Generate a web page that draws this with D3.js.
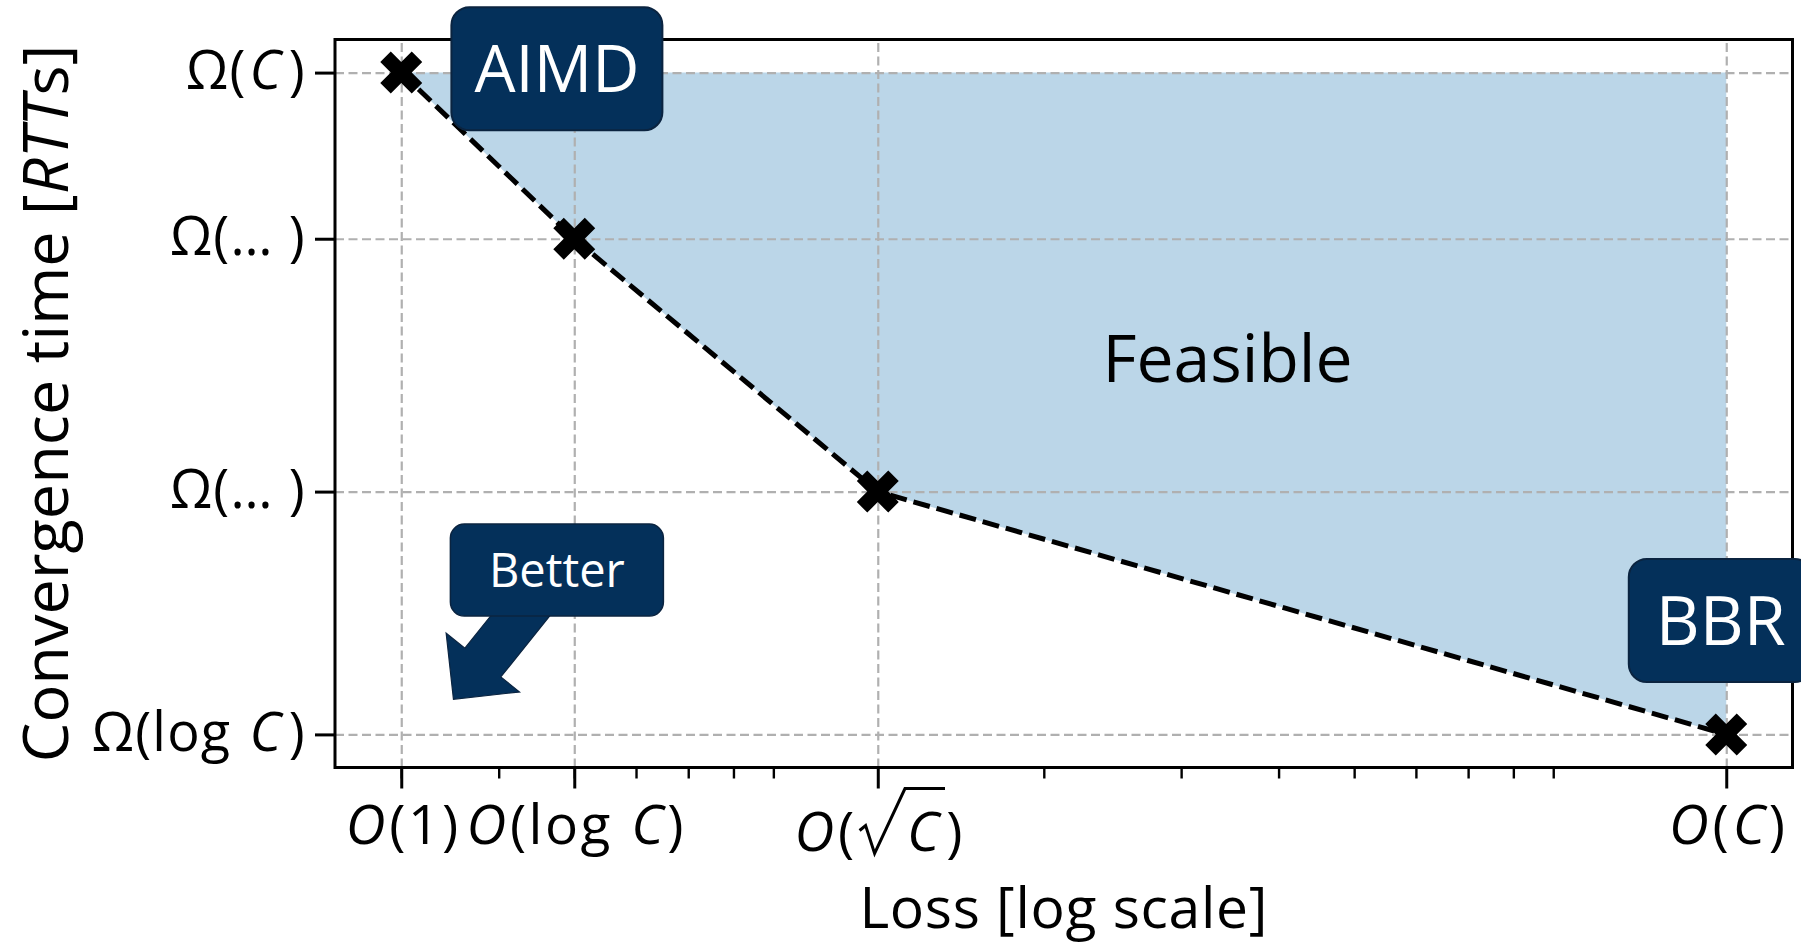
<!DOCTYPE html>
<html>
<head>
<meta charset="utf-8">
<script src="https://cdn.jsdelivr.net/npm/d3@7"></script>
<style>
  body { margin: 0; background: #fff; }
  text { font-family: "Open Sans", "Noto Sans", sans-serif; }
</style>
</head>
<body>
<div id="chart"></div>
<script>
const width = 1801;
const height = 945;
const plot = { left: 335, right: 1792.5, top: 39.5, bottom: 767.5 };

// frontier points (loss, convergence time)
const lossValues = [3, 5, 12.25, 150];
const timeValues = [150, 113.6, 58.2, 5];

// ticks: $..$ = italic, ^..^ = italic under a square root
const xTickValues = [3, 5, 12.25, 150];
const xTickLabels = ["$O$(1)", "$O$(log $C$)", "$O$(^C^)", "$O$($C$)"];
const yTickValues = [150, 113.6, 58.2, 5];
const yTickLabels = ["Ω($C$)", "Ω(… )", "Ω(… )", "Ω(log $C$)"];

// annotations, in data coordinates
const boxLabels = ["AIMD", "BBR"];
const boxLoss = [4.75, 147.6];
const boxTime = [150.85, 29.95];
const betterLabel = "Better";
const betterAt = [4.75, 41.0];
const betterTip = [3.5, 12.7];
const regionLabel = "Feasible";
const regionAt = [34.4, 82.2];

const navy = "#04305a";

const svg = d3.select("#chart")
  .append("svg")
  .attr("width", width)
  .attr("height", height)
  .style("background-color", "#fff");

// matplotlib style 5% margins
const lx = d3.extent(lossValues).map(Math.log10);
const padX = (lx[1] - lx[0]) * 0.05;
const x = d3.scaleLog()
  .domain([Math.pow(10, lx[0] - padX), Math.pow(10, lx[1] + padX)])
  .range([plot.left, plot.right]);

const ty = d3.extent(timeValues);
const padY = (ty[1] - ty[0]) * 0.05;
const y = d3.scaleLinear()
  .domain([ty[0] - padY, ty[1] + padY])
  .range([plot.bottom, plot.top]);

function richText(sel, str, spacing) {
  str.split(/(\$[^$]*\$|\^[^^]*\^)/).filter(s => s.length).forEach(part => {
    if (part[0] === "$") {
      const t = sel.append("tspan").attr("font-style", "italic").text(part.slice(1, -1));
      if (spacing) t.attr("dx", spacing).attr("letter-spacing", spacing * 2.5);
    } else if (part[0] === "^") {
      // room for the radical sign, drawn afterwards
      sel.append("tspan").text("\u00a0\u00a0\u00a0");
      sel.append("tspan").attr("font-style", "italic").attr("letter-spacing", 7).text(part.slice(1, -1));
    } else sel.append("tspan").text(part);
  });
}

// feasible region
const points = lossValues.map((l, i) => ({ loss: l, time: timeValues[i] }));
svg.append("path")
  .datum(points)
  .attr("fill", "rgba(31,119,180,0.3)")
  .attr("d", d3.area()
    .x(d => x(d.loss))
    .y0(y(d3.max(timeValues)))
    .y1(d => y(d.time)));

// grid
svg.append("g")
  .attr("transform", `translate(0,${plot.bottom})`)
  .call(d3.axisBottom(x).tickValues(xTickValues).tickSize(-(plot.bottom - plot.top)).tickFormat(""))
  .call(g => g.select(".domain").remove())
  .selectAll("line")
  .attr("stroke", "#b0b0b0").attr("stroke-width", 2.2).attr("stroke-dasharray", "9,4.5");

svg.append("g")
  .attr("transform", `translate(${plot.left},0)`)
  .call(d3.axisLeft(y).tickValues(yTickValues).tickSize(-(plot.right - plot.left)).tickFormat(""))
  .call(g => g.select(".domain").remove())
  .selectAll("line")
  .attr("stroke", "#b0b0b0").attr("stroke-width", 2.2).attr("stroke-dasharray", "9,4.5");

// frontier
svg.append("path")
  .datum(points)
  .attr("fill", "none")
  .attr("stroke", "#000")
  .attr("stroke-width", 5)
  .attr("stroke-dasharray", "17,7")
  .attr("d", d3.line().x(d => x(d.loss)).y(d => y(d.time)));

svg.selectAll(".marker")
  .data(points)
  .join("path")
  .attr("class", "marker")
  .attr("transform", d => `translate(${x(d.loss)},${y(d.time)}) rotate(45)`)
  .attr("fill", "#000")
  .attr("d", d3.symbol(d3.symbolCross, 1100));

// frame
svg.append("rect")
  .attr("x", plot.left).attr("y", plot.top)
  .attr("width", plot.right - plot.left).attr("height", plot.bottom - plot.top)
  .attr("fill", "none").attr("stroke", "#000").attr("stroke-width", 3);

// x axis: minor + major ticks
const minorTicks = x.ticks().filter(v => Math.abs(Math.log10(v) - Math.round(Math.log10(v))) > 1e-6);
svg.append("g")
  .attr("transform", `translate(0,${plot.bottom})`)
  .call(d3.axisBottom(x).tickValues(minorTicks).tickSize(11).tickFormat(""))
  .call(g => g.select(".domain").remove())
  .selectAll("line").attr("stroke", "#000").attr("stroke-width", 2.4);

const xAxis = svg.append("g")
  .attr("transform", `translate(0,${plot.bottom})`)
  .call(d3.axisBottom(x).tickValues(xTickValues).tickSize(21).tickFormat(""))
  .call(g => g.select(".domain").remove());
xAxis.selectAll("line").attr("stroke", "#000").attr("stroke-width", 3);
xAxis.selectAll(".tick text").remove();
xAxis.selectAll(".tick").each(function (d, i) {
  const label = xTickLabels[i];
  const hasRoot = label.includes("^");
  const base = hasRoot ? 83 : 76;
  const t = d3.select(this).append("text")
    .attr("y", base)
    .attr("fill", "#000")
    .attr("font-size", 55)
    .attr("letter-spacing", 2.5)
    .attr("text-anchor", "middle");
  richText(t, label, 1.5);
  if (hasRoot) {
    const node = t.node();
    const txt = node.textContent;
    const pi = txt.indexOf("(");
    const ci = txt.indexOf("C");
    const sx = node.getEndPositionOfChar(pi).x + 3;
    const cx0 = node.getStartPositionOfChar(ci).x;
    const ex = node.getStartPositionOfChar(ci).x + 38;
    d3.select(this).append("path")
      .attr("fill", "none").attr("stroke", "#000").attr("stroke-width", 3)
      .attr("stroke-linejoin", "miter")
      .attr("d", `M${sx},${base - 20} L${sx + 6},${base - 25} L${sx + 15},${base + 3} L${cx0 - 2},${base - 62} L${ex},${base - 62}`);
  }
});

// y axis
const yAxis = svg.append("g")
  .attr("transform", `translate(${plot.left},0)`)
  .call(d3.axisLeft(y).tickValues(yTickValues).tickSize(20).tickFormat(""))
  .call(g => g.select(".domain").remove());
yAxis.selectAll("line").attr("stroke", "#000").attr("stroke-width", 3);
yAxis.selectAll(".tick text").remove();
yAxis.selectAll(".tick").each(function (d, i) {
  const t = d3.select(this).append("text")
    .attr("x", -29)
    .attr("y", 16)
    .attr("fill", "#000")
    .attr("font-size", 54)
    .attr("letter-spacing", 1.2)
    .attr("text-anchor", "end");
  richText(t, yTickLabels[i], 3);
});

// axis titles
svg.append("text")
  .attr("x", (plot.left + plot.right) / 2)
  .attr("y", 928)
  .attr("text-anchor", "middle")
  .attr("font-size", 57)
  .attr("letter-spacing", 0.7)
  .text("Loss [log scale]");

const yTitle = svg.append("text")
  .attr("transform", `translate(68,${(plot.top + plot.bottom) / 2}) rotate(-90)`)
  .attr("text-anchor", "middle")
  .attr("font-size", 63);
richText(yTitle, "Convergence time [$RTT$s]");

// feasible label
svg.append("text")
  .attr("x", x(regionAt[0]))
  .attr("y", y(regionAt[1]))
  .attr("text-anchor", "middle")
  .attr("font-size", 66)
  .text(regionLabel);

// "Better" arrow
const p0 = [x(betterAt[0]), y(betterAt[1])];
const p1 = [x(betterTip[0]), y(betterTip[1])];
const len = Math.hypot(p1[0] - p0[0], p1[1] - p0[1]);
const u = [(p1[0] - p0[0]) / len, (p1[1] - p0[1]) / len];
const n = [-u[1], u[0]];
const headLen = 47, headW = 47, shaftW = 23;
const neck = [p1[0] - u[0] * headLen, p1[1] - u[1] * headLen];
const arrowPts = [
  [p0[0] + n[0] * shaftW, p0[1] + n[1] * shaftW],
  [neck[0] + n[0] * shaftW, neck[1] + n[1] * shaftW],
  [neck[0] + n[0] * headW, neck[1] + n[1] * headW],
  p1,
  [neck[0] - n[0] * headW, neck[1] - n[1] * headW],
  [neck[0] - n[0] * shaftW, neck[1] - n[1] * shaftW],
  [p0[0] - n[0] * shaftW, p0[1] - n[1] * shaftW]
];
svg.append("path")
  .attr("d", d3.line()(arrowPts) + "Z")
  .attr("fill", navy)
  .attr("stroke", "#0b2440")
  .attr("stroke-width", 1.2);

svg.append("rect")
  .attr("x", p0[0] - 106.5).attr("y", p0[1] - 46)
  .attr("width", 213).attr("height", 92)
  .attr("rx", 14)
  .attr("fill", navy).attr("stroke", "#0b2440").attr("stroke-width", 1.5);
svg.append("text")
  .attr("x", p0[0]).attr("y", p0[1])
  .attr("dy", "0.357em")
  .attr("text-anchor", "middle")
  .attr("font-size", 47)
  .attr("fill", "#fff")
  .text(betterLabel);

// AIMD / BBR boxes
const boxW = [211, 184];
const boxFont = [65, 68];
boxLabels.forEach((lab, i) => {
  const cx = x(boxLoss[i]), cy = y(boxTime[i]);
  svg.append("rect")
    .attr("x", cx - boxW[i] / 2).attr("y", cy - 61.5)
    .attr("width", boxW[i]).attr("height", 123)
    .attr("rx", 18)
    .attr("fill", navy).attr("stroke", "#0b2440").attr("stroke-width", 2);
  svg.append("text")
    .attr("x", cx).attr("y", cy)
    .attr("dy", "0.357em")
    .attr("text-anchor", "middle")
    .attr("font-size", boxFont[i])
    .attr("fill", "#fff")
    .text(lab);
});
</script>
</body>
</html>
